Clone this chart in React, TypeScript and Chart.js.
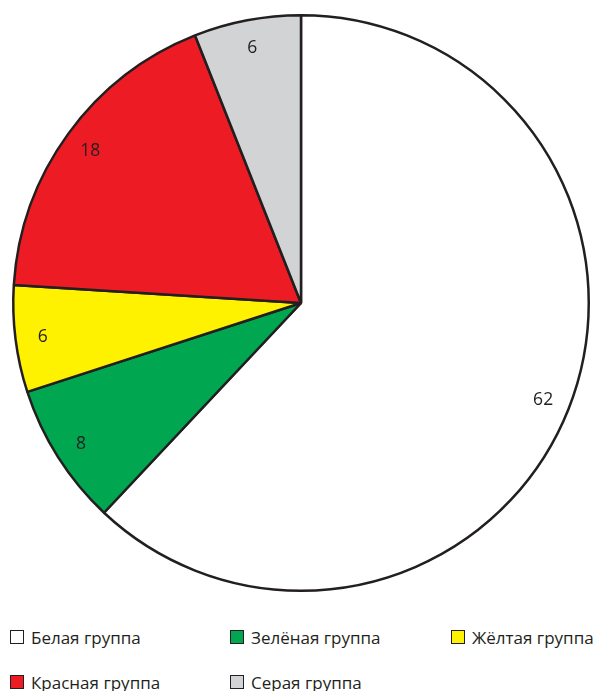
import React, { useEffect, useRef } from "react";
import { Chart, registerables } from "chart.js";

Chart.register(...registerables);

const labels = ["Белая группа", "Зелёная группа", "Жёлтая группа", "Красная группа", "Серая группа"];
const values = [62, 8, 6, 18, 6];
const colors = ["#ffffff", "#00a650", "#fff200", "#ed1c24", "#d1d3d4"];
const borderColor = "#231f20";
const FONT = "'Open Sans', 'Liberation Sans', sans-serif";

const valueLabels = {
  id: "valueLabels",
  afterDatasetsDraw(chart: any) {
    const ctx = chart.ctx;
    const meta = chart.getDatasetMeta(0);
    ctx.save();
    ctx.fillStyle = borderColor;
    ctx.font = `17.5px ${FONT}`;
    ctx.textAlign = "center";
    ctx.textBaseline = "middle";
    meta.data.forEach((arc: any, i: number) => {
      const p = arc.getProps(["x", "y", "startAngle", "endAngle", "outerRadius"], true);
      const mid = (p.startAngle + p.endAngle) / 2;
      const r = p.outerRadius * 0.905;
      ctx.fillText(String(values[i]), p.x + Math.cos(mid) * r, p.y + Math.sin(mid) * r + 1);
    });
    ctx.restore();
  },
};

export default function App() {
  const ref = useRef<HTMLCanvasElement>(null);
  useEffect(() => {
    const chart = new Chart(ref.current!, {
      type: "pie",
      data: {
        labels,
        datasets: [
          {
            data: values,
            backgroundColor: colors,
            borderColor,
            borderWidth: 2.5,
          },
        ],
      },
      options: {
        animation: false,
        responsive: false,
        layout: { padding: { left: 12, right: 7, top: 14, bottom: 14 } },
        plugins: { legend: { display: false }, tooltip: { enabled: false } },
      },
      plugins: [valueLabels],
    });
    return () => chart.destroy();
  }, []);

  const cols = [10, 230, 451];
  const rows = [637, 682];
  return (
    <div style={{ position: "absolute", left: 0, top: 0, width: 597, height: 691, background: "#fff" }}>
      <canvas ref={ref} width={597} height={606} style={{ position: "absolute", left: 0, top: 0 }} />
      {labels.map((l, i) => {
        const x = cols[i % 3];
        const y = rows[Math.floor(i / 3)];
        return (
          <div
            key={l}
            style={{
              position: "absolute",
              left: x,
              top: y - 10,
              height: 20,
              display: "flex",
              alignItems: "center",
              fontFamily: FONT,
              fontSize: 17,
              color: borderColor,
              whiteSpace: "nowrap",
            }}
          >
            <span
              style={{
                display: "inline-block",
                width: 12,
                height: 12,
                border: `1px solid ${borderColor}`,
                background: colors[i],
                marginRight: 7,
              }}
            />
            {l}
          </div>
        );
      })}
    </div>
  );
}
